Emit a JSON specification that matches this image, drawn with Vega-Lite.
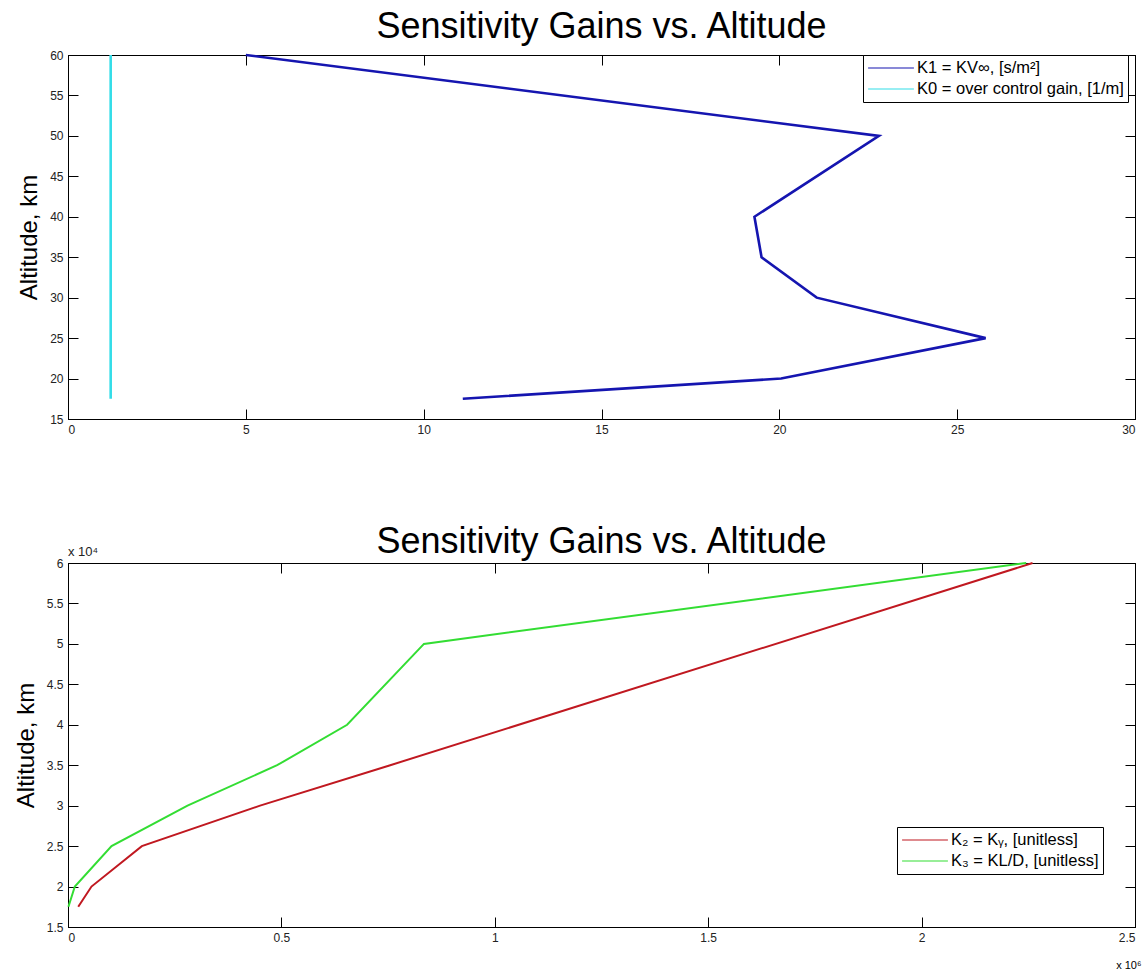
{
  "$schema": "https://vega.github.io/schema/vega-lite/v6.json",
  "background": "white",
  "padding": {"left": 13, "top": 8, "right": 3, "bottom": 2},
  "config": {
    "font": "Liberation Sans",
    "view": {"stroke": "#000000", "strokeWidth": 1},
    "axis": {
      "grid": false,
      "domainColor": "#000000",
      "tickColor": "#000000",
      "tickSize": -10,
      "labelFont": "Liberation Sans",
      "labelFontSize": 12,
      "labelColor": "#222222",
      "labelPadding": 15,
      "titleFont": "Liberation Sans",
      "titleFontWeight": "normal",
      "titleColor": "#000000"
    },
    "title": {"font": "Liberation Sans", "fontSize": 36, "fontWeight": "normal", "color": "#000000"},
    "legend": {
      "strokeColor": "#000000",
      "fillColor": "#ffffff",
      "padding": 4,
      "labelFont": "Liberation Sans",
      "labelFontSize": 16.5,
      "labelColor": "#000000",
      "symbolType": "stroke",
      "symbolSize": 2100,
      "symbolStrokeWidth": 1.2,
      "clipHeight": 18,
      "rowPadding": 3,
      "labelOffset": 2,
      "labelLimit": 400
    }
  },
  "datasets": {
    "upper": [
      {"series": "K1 = KV∞, [s/m²]", "gain": 11.1, "alt": 17.5},
      {"series": "K1 = KV∞, [s/m²]", "gain": 20.05, "alt": 20},
      {"series": "K1 = KV∞, [s/m²]", "gain": 25.8, "alt": 25},
      {"series": "K1 = KV∞, [s/m²]", "gain": 21.05, "alt": 30},
      {"series": "K1 = KV∞, [s/m²]", "gain": 19.5, "alt": 35},
      {"series": "K1 = KV∞, [s/m²]", "gain": 19.3, "alt": 40},
      {"series": "K1 = KV∞, [s/m²]", "gain": 22.8, "alt": 50},
      {"series": "K1 = KV∞, [s/m²]", "gain": 5.0, "alt": 60},
      {"series": "K0 = over control gain, [1/m]", "gain": 1.2, "alt": 17.5},
      {"series": "K0 = over control gain, [1/m]", "gain": 1.2, "alt": 20},
      {"series": "K0 = over control gain, [1/m]", "gain": 1.2, "alt": 25},
      {"series": "K0 = over control gain, [1/m]", "gain": 1.2, "alt": 30},
      {"series": "K0 = over control gain, [1/m]", "gain": 1.2, "alt": 35},
      {"series": "K0 = over control gain, [1/m]", "gain": 1.2, "alt": 40},
      {"series": "K0 = over control gain, [1/m]", "gain": 1.2, "alt": 50},
      {"series": "K0 = over control gain, [1/m]", "gain": 1.2, "alt": 60}
    ],
    "lower": [
      {"series": "K₂ = Kᵧ, [unitless]", "gain": 24000, "alt": 17500},
      {"series": "K₂ = Kᵧ, [unitless]", "gain": 55000, "alt": 20000},
      {"series": "K₂ = Kᵧ, [unitless]", "gain": 173000, "alt": 25000},
      {"series": "K₂ = Kᵧ, [unitless]", "gain": 450000, "alt": 30000},
      {"series": "K₂ = Kᵧ, [unitless]", "gain": 755000, "alt": 35000},
      {"series": "K₂ = Kᵧ, [unitless]", "gain": 2260000, "alt": 60000},
      {"series": "K₃ = KL/D, [unitless]", "gain": 1000, "alt": 17500},
      {"series": "K₃ = KL/D, [unitless]", "gain": 16000, "alt": 20000},
      {"series": "K₃ = KL/D, [unitless]", "gain": 102000, "alt": 25000},
      {"series": "K₃ = KL/D, [unitless]", "gain": 280000, "alt": 30000},
      {"series": "K₃ = KL/D, [unitless]", "gain": 490000, "alt": 35000},
      {"series": "K₃ = KL/D, [unitless]", "gain": 654000, "alt": 40000},
      {"series": "K₃ = KL/D, [unitless]", "gain": 834000, "alt": 50000},
      {"series": "K₃ = KL/D, [unitless]", "gain": 2245000, "alt": 60000}
    ],
    "exponent": [
      {"label": "x 10⁴", "gain": 0, "alt": 60000}
    ]
  },
  "spacing": 87,
  "vconcat": [
    {
      "width": 1067,
      "height": 364,
      "title": {"text": "Sensitivity Gains vs. Altitude", "anchor": "middle", "offset": 3},
      "data": {"name": "upper"},
      "layer": [
        {
          "mark": {"type": "line", "strokeWidth": 2.6},
          "encoding": {
            "x": {"field": "gain", "type": "quantitative", "scale": {"domain": [0, 30], "nice": false},
                  "axis": {"title": null, "values": [0, 5, 10, 15, 20, 25, 30]}},
            "y": {"field": "alt", "type": "quantitative", "scale": {"domain": [15, 60], "nice": false, "zero": false},
                  "axis": {"title": "Altitude, km", "titleFontSize": 24, "titlePadding": 8, "values": [15, 20, 25, 30, 35, 40, 45, 50, 55, 60]}},
            "color": {"field": "series", "type": "nominal",
                      "scale": {"domain": ["K1 = KV∞, [s/m²]", "K0 = over control gain, [1/m]"], "range": ["#1515B0", "#33DDE8"]},
                      "legend": {"title": null, "orient": "none", "legendX": 795, "legendY": 0}},
            "order": {"field": "alt", "type": "quantitative"}
          }
        },
        {
          "mark": {"type": "line", "opacity": 0},
          "encoding": {
            "x": {"field": "gain", "type": "quantitative",
                  "axis": {"orient": "top", "title": null, "labels": false, "values": [0, 5, 10, 15, 20, 25, 30]}},
            "y": {"field": "alt", "type": "quantitative",
                  "axis": {"orient": "right", "title": null, "labels": false, "values": [15, 20, 25, 30, 35, 40, 45, 50, 55, 60]}},
            "detail": {"field": "series", "type": "nominal"},
            "order": {"field": "alt", "type": "quantitative"}
          }
        }
      ],
      "resolve": {"axis": {"x": "independent", "y": "independent"}}
    },
    {
      "width": 1067,
      "height": 364,
      "title": {"text": "Sensitivity Gains vs. Altitude", "anchor": "middle", "offset": -15},
      "layer": [
        {
          "data": {"name": "lower"},
          "mark": {"type": "line", "strokeWidth": 2},
          "encoding": {
            "x": {"field": "gain", "type": "quantitative", "scale": {"domain": [0, 2500000], "nice": false},
                  "axis": {"title": "x 10⁶", "titleFontSize": 11, "titleAlign": "right", "titleX": 1073, "titlePadding": 16,
                           "values": [0, 500000, 1000000, 1500000, 2000000, 2500000],
                           "labelExpr": "'' + (datum.value / 1000000)"}},
            "y": {"field": "alt", "type": "quantitative", "scale": {"domain": [15000, 60000], "nice": false, "zero": false},
                  "axis": {"title": "Altitude, km", "titleFontSize": 24, "titlePadding": 8,
                           "values": [15000, 20000, 25000, 30000, 35000, 40000, 45000, 50000, 55000, 60000],
                           "labelExpr": "'' + (datum.value / 10000)"}},
            "color": {"field": "series", "type": "nominal",
                      "scale": {"domain": ["K₂ = Kᵧ, [unitless]", "K₃ = KL/D, [unitless]"], "range": ["#C01820", "#33DD33"]},
                      "legend": {"title": null, "orient": "none", "legendX": 829, "legendY": 264}},
            "order": {"field": "alt", "type": "quantitative"}
          }
        },
        {
          "data": {"name": "lower"},
          "mark": {"type": "line", "opacity": 0},
          "encoding": {
            "x": {"field": "gain", "type": "quantitative",
                  "axis": {"orient": "top", "title": null, "labels": false, "values": [0, 500000, 1000000, 1500000, 2000000, 2500000]}},
            "y": {"field": "alt", "type": "quantitative",
                  "axis": {"orient": "right", "title": null, "labels": false,
                           "values": [15000, 20000, 25000, 30000, 35000, 40000, 45000, 50000, 55000, 60000]}},
            "detail": {"field": "series", "type": "nominal"},
            "order": {"field": "alt", "type": "quantitative"}
          }
        },
        {
          "data": {"name": "exponent"},
          "mark": {"type": "text", "align": "left", "baseline": "bottom", "dy": -4, "fontSize": 13, "color": "#222222", "clip": false},
          "encoding": {
            "x": {"field": "gain", "type": "quantitative", "axis": null},
            "y": {"field": "alt", "type": "quantitative", "axis": null},
            "text": {"field": "label", "type": "nominal"}
          }
        }
      ],
      "resolve": {"axis": {"x": "independent", "y": "independent"}}
    }
  ],
  "resolve": {"scale": {"color": "independent"}, "legend": {"color": "independent"}}
}
